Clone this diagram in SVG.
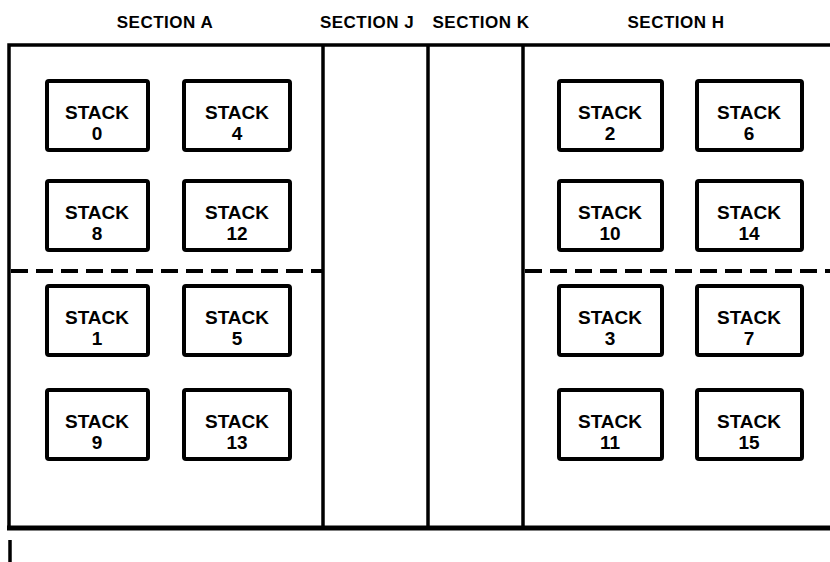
<svg xmlns="http://www.w3.org/2000/svg" width="830" height="562" viewBox="0 0 830 562">
<style>
.hdr{font-family:"Liberation Sans",Arial,sans-serif;font-weight:bold;font-size:17px;letter-spacing:0.5px;fill:#000;text-anchor:middle}
.lbl{font-family:"Liberation Sans",Arial,sans-serif;font-weight:bold;font-size:19px;fill:#000;text-anchor:middle}
.box{fill:#fff;stroke:#000;stroke-width:4}
.ln{stroke:#000;stroke-width:3.5;fill:none}
.dash{stroke:#000;stroke-width:4;stroke-dasharray:17 8;fill:none}
</style>
<rect width="830" height="562" fill="#fff"/>
<g id="headers">
<text class="hdr" x="165" y="28">SECTION A</text>
<text class="hdr" x="367" y="28">SECTION J</text>
<text class="hdr" x="481" y="28">SECTION K</text>
<text class="hdr" x="676" y="28">SECTION H</text>
</g>
<g id="frame">
<path class="ln" d="M830 45 H9 V528"/>
<line class="ln" x1="7" y1="528" x2="830" y2="528" style="stroke-width:5"/>
<line class="ln" x1="323" y1="45" x2="323" y2="528"/>
<line class="ln" x1="428" y1="45" x2="428" y2="528"/>
<line class="ln" x1="523" y1="45" x2="523" y2="528"/>
<line class="ln" x1="10" y1="540" x2="10" y2="562"/>
</g>
<g id="dividers">
<line class="dash" x1="11" y1="271" x2="323" y2="271"/>
<line class="dash" x1="525" y1="271" x2="830" y2="271"/>
</g>
<g id="stack0"><rect class="box" x="47" y="81" width="101" height="69" rx="2"/><text class="lbl" x="97" y="119">STACK</text><text class="lbl" x="97" y="140">0</text></g>
<g id="stack4"><rect class="box" x="184" y="81" width="106" height="69" rx="2"/><text class="lbl" x="237" y="119">STACK</text><text class="lbl" x="237" y="140">4</text></g>
<g id="stack8"><rect class="box" x="47" y="181" width="101" height="69" rx="2"/><text class="lbl" x="97" y="219">STACK</text><text class="lbl" x="97" y="240">8</text></g>
<g id="stack12"><rect class="box" x="184" y="181" width="106" height="69" rx="2"/><text class="lbl" x="237" y="219">STACK</text><text class="lbl" x="237" y="240">12</text></g>
<g id="stack1"><rect class="box" x="47" y="286" width="101" height="69" rx="2"/><text class="lbl" x="97" y="324">STACK</text><text class="lbl" x="97" y="345">1</text></g>
<g id="stack5"><rect class="box" x="184" y="286" width="106" height="69" rx="2"/><text class="lbl" x="237" y="324">STACK</text><text class="lbl" x="237" y="345">5</text></g>
<g id="stack9"><rect class="box" x="47" y="390" width="101" height="69" rx="2"/><text class="lbl" x="97" y="428">STACK</text><text class="lbl" x="97" y="449">9</text></g>
<g id="stack13"><rect class="box" x="184" y="390" width="106" height="69" rx="2"/><text class="lbl" x="237" y="428">STACK</text><text class="lbl" x="237" y="449">13</text></g>
<g id="stack2"><rect class="box" x="559" y="81" width="103" height="69" rx="2"/><text class="lbl" x="610" y="119">STACK</text><text class="lbl" x="610" y="140">2</text></g>
<g id="stack6"><rect class="box" x="697" y="81" width="105" height="69" rx="2"/><text class="lbl" x="749" y="119">STACK</text><text class="lbl" x="749" y="140">6</text></g>
<g id="stack10"><rect class="box" x="559" y="181" width="103" height="69" rx="2"/><text class="lbl" x="610" y="219">STACK</text><text class="lbl" x="610" y="240">10</text></g>
<g id="stack14"><rect class="box" x="697" y="181" width="105" height="69" rx="2"/><text class="lbl" x="749" y="219">STACK</text><text class="lbl" x="749" y="240">14</text></g>
<g id="stack3"><rect class="box" x="559" y="286" width="103" height="69" rx="2"/><text class="lbl" x="610" y="324">STACK</text><text class="lbl" x="610" y="345">3</text></g>
<g id="stack7"><rect class="box" x="697" y="286" width="105" height="69" rx="2"/><text class="lbl" x="749" y="324">STACK</text><text class="lbl" x="749" y="345">7</text></g>
<g id="stack11"><rect class="box" x="559" y="390" width="103" height="69" rx="2"/><text class="lbl" x="610" y="428">STACK</text><text class="lbl" x="610" y="449">11</text></g>
<g id="stack15"><rect class="box" x="697" y="390" width="105" height="69" rx="2"/><text class="lbl" x="749" y="428">STACK</text><text class="lbl" x="749" y="449">15</text></g>
</svg>
